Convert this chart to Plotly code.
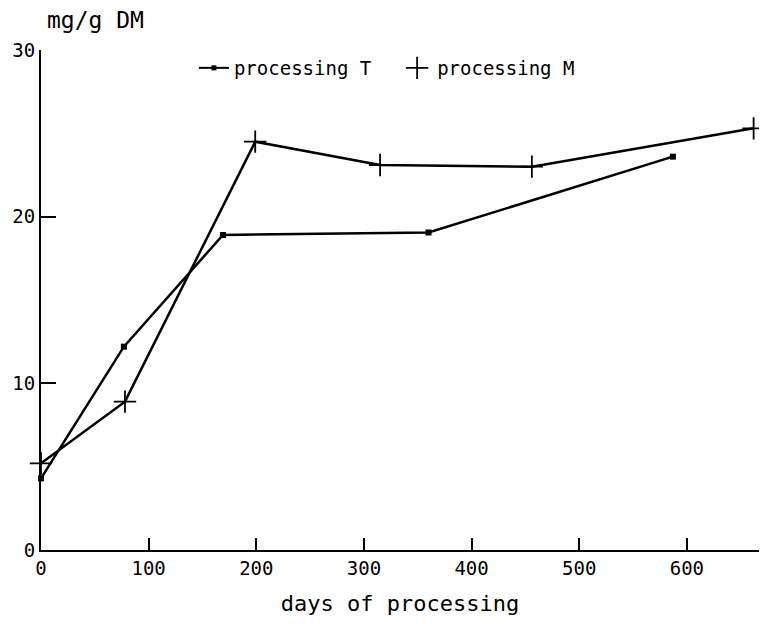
import plotly.graph_objects as go

t_days = [0, 77, 169, 360, 587]
t_vals = [4.3, 12.2, 18.9, 19.05, 23.6]
m_days = [0, 78, 199, 315, 456, 662]
m_vals = [5.2, 8.9, 24.5, 23.1, 23.0, 25.3]

x_ticks = [0, 100, 200, 300, 400, 500, 600]
y_ticks = [0, 10, 20, 30]

FONT = "DejaVu Sans Mono"

fig = go.Figure()
fig.add_trace(go.Scatter(
    x=t_days, y=t_vals, mode="lines+markers", name="processing T",
    line=dict(color="black", width=2.5),
    marker=dict(symbol="square", size=6, color="black"),
    cliponaxis=False, showlegend=False,
))
fig.add_trace(go.Scatter(
    x=m_days, y=m_vals, mode="lines+markers", name="processing M",
    line=dict(color="black", width=2.5),
    marker=dict(symbol="cross-thin", size=16, color="black",
                line=dict(color="black", width=1.8)),
    cliponaxis=False, showlegend=False,
))
# legend entries
fig.add_trace(go.Scatter(
    x=[None], y=[None], mode="lines+markers", name="processing T",
    line=dict(color="black", width=2),
    marker=dict(symbol="square", size=5, color="black"),
    legend="legend",
))
fig.add_trace(go.Scatter(
    x=[None], y=[None], mode="markers", name="processing M",
    marker=dict(symbol="cross-thin", size=20, color="black",
                line=dict(color="black", width=1.8)),
    legend="legend2",
))

legend_common = dict(orientation="h", y=0.964, xanchor="left", yanchor="middle",
                     font=dict(size=19), bgcolor="rgba(0,0,0,0)",
                     itemwidth=30, tracegroupgap=0)

fig.update_layout(
    width=751, height=608,
    margin=dict(l=32.5, r=0, t=42, b=66),
    paper_bgcolor="white", plot_bgcolor="white",
    font=dict(family=FONT, size=19, color="black"),
    showlegend=True,
    legend=dict(x=0.213, **legend_common),
    legend2=dict(x=0.496, **legend_common),
    annotations=[dict(text="mg/g DM", xref="paper", yref="paper",
                      x=0.006, y=1.06, xanchor="left", yanchor="middle",
                      showarrow=False, font=dict(size=23))],
)
fig.update_xaxes(
    range=[0, 667], tickvals=x_ticks, ticktext=[str(v) for v in x_ticks],
    showgrid=False, zeroline=False, showline=True, linecolor="black", linewidth=2,
    ticks="inside", ticklen=12, tickwidth=2, tickcolor="black",
    title=dict(text="days of processing", font=dict(size=22), standoff=20),
    automargin=False,
)
fig.update_yaxes(
    range=[0, 30], tickvals=y_ticks, ticktext=[str(v) for v in y_ticks],
    showgrid=False, zeroline=False, showline=True, linecolor="black", linewidth=2,
    ticks="inside", ticklen=15, tickwidth=2, tickcolor="black",
    automargin=False,
)
fig.write_html("out.html")
